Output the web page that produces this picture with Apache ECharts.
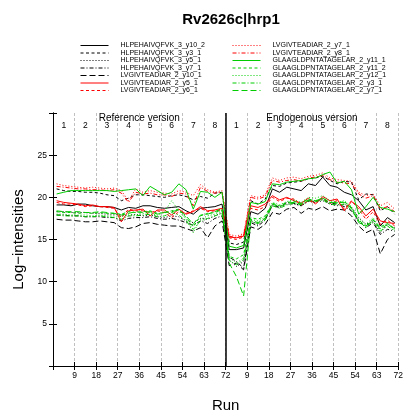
<!DOCTYPE html>
<html>
<head>
<meta charset="utf-8">
<script src="https://cdn.jsdelivr.net/npm/echarts@6/dist/echarts.min.js"></script>
<style>
  html, body { margin: 0; padding: 0; background: #fff; }
  #chart { width: 406px; height: 418px; }
</style>
</head>
<body>
<div id="chart"></div>
<script>
// Run positions of the plotted points (three per condition, 16 conditions)
const runs = [
  1.5, 4.5, 7.5, 10.5, 13.5, 16.5, 19.5, 22.5, 25.5, 28.5, 31.5, 34.5,
  37.5, 40.5, 43.5, 46.5, 49.5, 52.5, 55.5, 58.5, 61.5, 64.5, 67.5, 70.5,
  73.5, 76.5, 79.5, 82.5, 85.5, 88.5, 91.5, 94.5, 97.5, 100.5, 103.5, 106.5,
  109.5, 112.5, 115.5, 118.5, 121.5, 124.5, 127.5, 130.5, 133.5, 136.5, 139.5, 142.5
];

// Bottom axis tick labels (run numbers restart in each version)
const runTickLabels = ['9', '18', '27', '36', '45', '54', '63', '72',
                       '9', '18', '27', '36', '45', '54', '63', '72'];
const conditionLabels = ['1', '2', '3', '4', '5', '6', '7', '8'];
const versionLabels = ['Reference version', 'Endogenous version'];
const intensityTicks = [5, 10, 15, 20, 25];
const versionBoundary = 72;

const HLPEHAIVQFVK_3_y10_2 = [
  19.1,19.1,19.0, 19.2,19.2,19.0, 18.9,18.9,18.8, 18.5,18.8,18.7, 19.0,19.0,18.8, 18.7,18.8,18.9, 18.4,18.0,18.7, 18.8,18.9,19.2,
  13.8,13.8,14.0, 18.3,18.0,18.7, 21.0,20.6,21.2, 21.0,20.8,21.6, 21.4,22.4,21.4, 21.2,20.6,20.3, 19.6,18.5,18.9, 16.6,17.6,17.0
];
const HLPEHAIVQFVK_3_y3_1 = [
  21.0,20.8,20.7, 20.7,20.6,20.6, 20.5,20.3,20.2, 19.6,19.9,20.3, 20.3,20.2,20.1, 20.0,20.2,20.3, 20.1,19.7,20.1, 19.9,20.5,20.6,
  14.6,14.4,14.7, 19.6,19.2,19.8, 21.4,21.3,21.7, 21.8,21.9,22.2, 22.3,22.5,22.0, 21.6,21.9,21.8, 19.7,20.4,20.3, 18.4,18.9,18.0
];
const HLPEHAIVQFVK_3_y5_1 = [
  18.3,18.3,18.2, 18.2,18.2,18.1, 18.1,18.0,18.0, 17.9,17.8,18.0, 17.8,17.9,17.7, 17.6,17.8,17.7, 17.2,17.0,17.5, 17.4,17.8,18.2,
  12.6,11.8,12.4, 17.2,16.8,17.5, 19.0,18.8,19.2, 19.2,19.0,19.5, 19.4,19.6,19.2, 19.0,19.2,18.8, 17.6,16.8,17.2, 15.8,16.8,16.4
];
const HLPEHAIVQFVK_3_y7_1 = [
  17.9,17.9,17.8, 17.8,17.7,17.7, 17.7,17.6,17.6, 17.2,17.5,17.6, 17.6,17.7,17.5, 17.4,17.5,17.3, 17.0,16.7,17.2, 16.9,17.5,17.8,
  12.9,12.4,11.6, 17.0,16.6,17.3, 19.1,18.8,19.4, 19.3,19.0,19.6, 19.5,19.8,19.3, 19.2,18.9,18.4, 17.2,16.4,17.0, 15.6,16.2,16.0
];
const LVGIVTEADIAR_2_y10_1 = [
  17.4,17.3,17.3, 17.2,17.1,17.1, 17.2,17.1,17.0, 16.4,16.3,16.5, 16.9,17.0,16.8, 16.7,16.6,16.6, 16.3,16.0,16.4, 15.2,16.6,17.2,
  11.9,12.2,11.4, 16.5,16.2,16.8, 18.2,18.0,18.6, 18.8,18.1,18.7, 18.5,18.9,18.4, 18.6,18.5,17.8, 16.6,15.8,16.2, 13.3,15.0,15.6
];
const LVGIVTEADIAR_2_y5_1 = [
  19.6,19.4,19.3, 19.2,19.0,19.1, 18.9,18.9,18.8, 17.1,18.4,18.5, 18.6,17.8,18.5, 18.5,17.9,18.6, 18.0,18.3,18.9, 18.4,18.5,18.7,
  15.3,15.2,15.4, 19.0,18.8,19.2, 20.2,19.7,20.0, 19.6,19.3,19.9, 19.2,20.1,19.6, 19.8,18.4,19.5, 18.9,17.8,18.6, 17.2,17.0,16.9
];
const LVGIVTEADIAR_2_y6_1 = [
  19.4,19.2,19.2, 19.1,18.9,19.0, 18.9,18.8,18.7, 17.6,18.6,18.4, 18.4,18.2,18.4, 18.2,17.6,18.3, 18.1,18.4,18.7, 18.3,18.4,18.5,
  15.2,15.0,15.3, 18.7,18.5,18.9, 20.0,19.5,19.9, 19.8,19.1,19.6, 19.4,19.9,19.3, 19.6,18.6,19.6, 18.6,17.4,18.3, 16.8,17.3,16.6
];
const LVGIVTEADIAR_2_y7_1 = [
  21.6,21.4,21.3, 21.2,21.1,21.2, 21.1,21.0,21.1, 20.8,19.6,21.0, 20.6,20.8,20.6, 20.5,20.4,20.8, 20.6,20.2,21.5, 20.9,20.6,20.8,
  15.6,15.4,15.7, 20.2,20.0,20.3, 22.3,22.0,22.3, 22.4,22.2,22.5, 22.6,22.9,22.3, 22.1,22.0,21.9, 20.6,20.2,20.4, 19.0,19.4,18.6
];
const LVGIVTEADIAR_2_y8_1 = [
  21.3,21.2,21.1, 21.0,21.0,20.9, 20.9,20.8,20.9, 20.5,19.4,20.6, 20.4,20.5,20.3, 20.3,20.1,20.5, 20.4,19.0,21.2, 20.7,20.5,20.6,
  15.4,15.2,15.5, 20.0,19.8,20.1, 22.0,21.8,22.0, 22.1,21.9,22.3, 22.4,22.6,22.1, 21.8,21.7,21.6, 20.4,19.9,20.2, 18.6,18.9,18.3
];
const GLAAGLDPNTATAGELAR_2_y11_1 = [
  20.4,20.6,20.8, 20.8,20.8,20.8, 20.8,20.8,20.7, 20.8,20.9,21.0, 20.2,21.3,20.8, 20.3,20.6,21.6, 20.9,18.6,20.7, 20.6,20.0,20.6,
  14.2,14.0,14.3, 19.4,19.2,19.5, 21.6,21.5,21.8, 21.9,22.0,22.2, 22.3,22.7,23.0, 21.7,21.9,20.9, 18.0,18.9,20.0, 18.8,18.6,18.3
];
const GLAAGLDPNTATAGELAR_2_y11_2 = [
  18.3,18.2,18.2, 18.1,18.2,18.1, 18.2,18.1,18.1, 18.0,18.3,18.2, 18.3,18.4,18.1, 18.2,18.4,18.6, 17.6,16.5,17.8, 18.1,18.2,18.5,
  13.0,12.7,13.2, 17.6,17.4,17.8, 19.3,19.0,19.4, 19.5,19.3,19.8, 19.6,19.9,19.4, 19.3,19.5,18.8, 17.2,16.4,17.3, 16.5,16.9,16.2
];
const GLAAGLDPNTATAGELAR_2_y12_1 = [
  18.0,18.0,17.9, 17.9,17.9,17.8, 17.9,17.8,17.8, 17.7,18.0,17.9, 18.1,18.2,17.8, 18.3,19.6,18.4, 17.4,15.8,17.4, 17.8,18.0,18.4,
  12.9,12.2,12.8, 17.4,17.2,17.6, 19.4,19.1,19.5, 19.7,19.4,20.0, 19.9,20.2,19.6, 19.4,19.6,18.9, 17.5,16.8,17.6, 16.3,17.0,16.1
];
const GLAAGLDPNTATAGELAR_2_y3_1 = [
  17.9,17.8,17.8, 17.8,17.7,17.7, 17.8,17.7,17.6, 17.4,17.8,17.8, 17.9,18.0,17.7, 17.8,18.2,17.9, 17.2,16.2,17.2, 17.5,17.8,18.1,
  12.5,12.0,12.6, 17.1,16.9,17.3, 19.0,18.7,19.1, 19.3,19.1,19.6, 19.5,19.7,19.2, 19.1,19.2,18.5, 17.3,16.6,17.1, 16.0,16.6,16.0
];
const GLAAGLDPNTATAGELAR_2_y7_1 = [
  18.4,18.3,18.3, 18.3,18.2,18.2, 18.3,18.2,18.1, 17.9,18.1,18.3, 18.2,18.3,18.0, 18.2,18.3,18.5, 17.8,16.8,17.9, 18.0,18.3,18.7,
  12.2,10.6,8.3, 17.3,17.0,17.5, 19.2,18.9,19.3, 19.4,19.2,19.7, 19.6,19.9,19.4, 19.4,19.4,18.7, 17.0,16.6,17.4, 16.2,16.8,16.3
];

const BLACK = '#000000', RED = '#ff0000', GREEN = '#00cc00';
const SOLID = 'solid', DASH = [3, 2.5], DOT = [1, 2], DOTDASH = [4, 2, 1, 2], LONGDASH = [6, 3];

const transitions = [
  { name: 'HLPEHAIVQFVK_3_y10_2', values: HLPEHAIVQFVK_3_y10_2, color: BLACK, dash: SOLID },
  { name: 'HLPEHAIVQFVK_3_y3_1', values: HLPEHAIVQFVK_3_y3_1, color: BLACK, dash: DASH },
  { name: 'HLPEHAIVQFVK_3_y5_1', values: HLPEHAIVQFVK_3_y5_1, color: BLACK, dash: DOT },
  { name: 'HLPEHAIVQFVK_3_y7_1', values: HLPEHAIVQFVK_3_y7_1, color: BLACK, dash: DOTDASH },
  { name: 'LVGIVTEADIAR_2_y10_1', values: LVGIVTEADIAR_2_y10_1, color: BLACK, dash: LONGDASH },
  { name: 'LVGIVTEADIAR_2_y5_1', values: LVGIVTEADIAR_2_y5_1, color: RED, dash: SOLID },
  { name: 'LVGIVTEADIAR_2_y6_1', values: LVGIVTEADIAR_2_y6_1, color: RED, dash: DASH },
  { name: 'LVGIVTEADIAR_2_y7_1', values: LVGIVTEADIAR_2_y7_1, color: RED, dash: DOT },
  { name: 'LVGIVTEADIAR_2_y8_1', values: LVGIVTEADIAR_2_y8_1, color: RED, dash: DOTDASH },
  { name: 'GLAAGLDPNTATAGELAR_2_y11_1', values: GLAAGLDPNTATAGELAR_2_y11_1, color: GREEN, dash: SOLID },
  { name: 'GLAAGLDPNTATAGELAR_2_y11_2', values: GLAAGLDPNTATAGELAR_2_y11_2, color: GREEN, dash: DASH },
  { name: 'GLAAGLDPNTATAGELAR_2_y12_1', values: GLAAGLDPNTATAGELAR_2_y12_1, color: GREEN, dash: DOT },
  { name: 'GLAAGLDPNTATAGELAR_2_y3_1', values: GLAAGLDPNTATAGELAR_2_y3_1, color: GREEN, dash: DOTDASH },
  { name: 'GLAAGLDPNTATAGELAR_2_y7_1', values: GLAAGLDPNTATAGELAR_2_y7_1, color: GREEN, dash: LONGDASH }
];

const FONT = 'Liberation Sans, Arial, Helvetica, sans-serif';

const series = transitions.map((t, k) => {
  const s = {
    name: t.name,
    type: 'line',
    xAxisIndex: 0,
    yAxisIndex: 0,
    symbol: 'none',
    showSymbol: false,
    smooth: false,
    lineStyle: { color: t.color, width: 1, type: t.dash },
    itemStyle: { color: t.color },
    data: runs.map((r, i) => [r, t.values[i]])
  };
  if (k === 0) {
    s.markLine = {
      silent: true,
      symbol: 'none',
      label: { show: false },
      lineStyle: { color: '#000', width: 1.5, type: 'solid' },
      data: [{ xAxis: versionBoundary }]
    };
  }
  return s;
});

const legendBase = {
  orient: 'vertical',
  top: 37,
  itemWidth: 28,
  itemHeight: 7,
  itemGap: 0.5,
  selectedMode: false,
  itemStyle: { opacity: 0 },
  lineStyle: { width: 1, opacity: 1 },
  textStyle: { fontSize: 7, lineHeight: 7, color: '#000', fontFamily: FONT, padding: [0, 0, 0, 7] }
};

const option = {
  animation: false,
  backgroundColor: '#fff',
  title: {
    text: 'Rv2626c|hrp1',
    left: 226,
    top: 7,
    textAlign: 'center',
    textStyle: { fontSize: 15, fontWeight: 'bold', color: '#000', fontFamily: FONT }
  },
  legend: [
    Object.assign({}, legendBase, { left: 75, data: transitions.slice(0, 7).map(t => t.name) }),
    Object.assign({}, legendBase, { left: 227, data: transitions.slice(7).map(t => t.name) })
  ],
  grid: { left: 53, right: 6, top: 113, bottom: 42, containLabel: false },
  xAxis: [
    {
      type: 'value', position: 'bottom', min: 0, max: 144, interval: 9,
      name: 'Run', nameLocation: 'middle', nameGap: 32,
      nameTextStyle: { fontSize: 15, color: '#000', fontFamily: FONT },
      axisLine: { show: true, lineStyle: { color: '#000', width: 1 } },
      axisTick: { show: true, inside: false, length: 4, lineStyle: { color: '#000' } },
      axisLabel: {
        show: true, fontSize: 8.5, color: '#000', fontFamily: FONT, margin: 5,
        showMinLabel: true, showMaxLabel: true,
        formatter: v => { const i = Math.round(v / 9) - 1; return i >= 0 ? runTickLabels[i] : ''; }
      },
      splitLine: { show: true, lineStyle: { color: '#b0b0b0', width: 0.8, type: [3, 2] } }
    },
    {
      type: 'value', position: 'top', min: 0, max: 144, interval: 9,
      axisLine: { show: true, lineStyle: { color: '#000', width: 1 } },
      axisTick: { show: true, inside: false, length: 4, lineStyle: { color: '#000' } },
      axisLabel: { show: false },
      splitLine: { show: false }
    },
    {
      type: 'value', position: 'top', min: 0, max: 144, interval: 4.5,
      axisLine: { show: false }, axisTick: { show: false }, splitLine: { show: false },
      axisLabel: {
        show: true, inside: true, margin: 8, fontSize: 8.5, color: '#000', fontFamily: FONT,
        formatter: v => {
          const h = Math.round(v / 4.5);
          return h % 2 === 1 ? conditionLabels[((h - 1) / 2) % 8] : '';
        }
      }
    },
    {
      type: 'value', position: 'top', min: 0, max: 144, interval: 36,
      axisLine: { show: false }, axisTick: { show: false }, splitLine: { show: false },
      axisLabel: {
        show: true, inside: true, margin: 0, fontSize: 10, color: '#000', fontFamily: FONT,
        formatter: v => (v === 36 ? versionLabels[0] : v === 108 ? versionLabels[1] : '')
      }
    }
  ],
  yAxis: [
    {
      type: 'value', position: 'left', min: 0, max: 30, interval: 5,
      name: 'Log\u2212intensities', nameLocation: 'middle', nameGap: 24,
      nameTextStyle: { fontSize: 15, color: '#000', fontFamily: FONT },
      axisLine: { show: true, lineStyle: { color: '#000', width: 1 } },
      axisTick: { show: true, inside: false, length: 4, lineStyle: { color: '#000' } },
      axisLabel: {
        show: true, fontSize: 8.5, color: '#000', fontFamily: FONT, margin: 6,
        formatter: v => (intensityTicks.includes(v) ? String(v) : '')
      },
      splitLine: { show: false }
    },
    {
      type: 'value', position: 'right', min: 0, max: 30, interval: 5,
      axisLine: { show: true, lineStyle: { color: '#000', width: 1 } },
      axisTick: { show: true, inside: false, length: 4, lineStyle: { color: '#000' } },
      axisLabel: { show: false },
      splitLine: { show: false }
    }
  ],
  series: series
};

const chart = echarts.init(document.getElementById('chart'), null, { renderer: 'canvas' });
chart.setOption(option);
</script>
</body>
</html>
